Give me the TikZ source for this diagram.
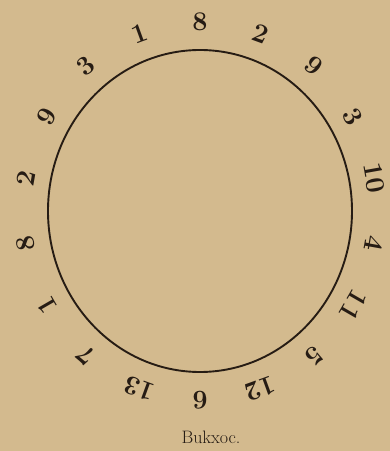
\documentclass[tikz,border=0pt]{standalone}
\usepackage{tikz}
\usetikzlibrary{calc,positioning}
\usepackage{xcolor}
\definecolor{carta}{RGB}{211,186,142}
\definecolor{inchiostro}{RGB}{38,28,20}

\begin{document}
\begin{tikzpicture}[x=1pt, y=1pt,
  cifra/.style={font=\fontsize{27}{27}\selectfont\bfseries, text=inchiostro, inner sep=0pt},
  didascalia/.style={font=\fontsize{18}{18}\selectfont, text=inchiostro}]
% sfondo
\fill[carta] (0,0) rectangle (390,451);
\useasboundingbox (0,0) rectangle (390,451);
% cerchio
\coordinate (centro) at (200,240);
\draw[inchiostro, line width=1.9pt] (centro) ellipse [x radius=152, y radius=161];
% numeri intorno al cerchio
\foreach \n [count=\i from 0] in {8,2,9,3,10,4,11,5,12,6,13,7,1,8,2,9,3,1}{
  \pgfmathsetmacro{\ang}{90-20*\i}
  \node[cifra, rotate=\ang-90] (n\i) at ($(centro)+(\ang:177 and 189)$) {\n};
}
% didascalia
\node[didascalia] (titolo) at (211,14) {Bukxoc.};
\end{tikzpicture}
\end{document}
